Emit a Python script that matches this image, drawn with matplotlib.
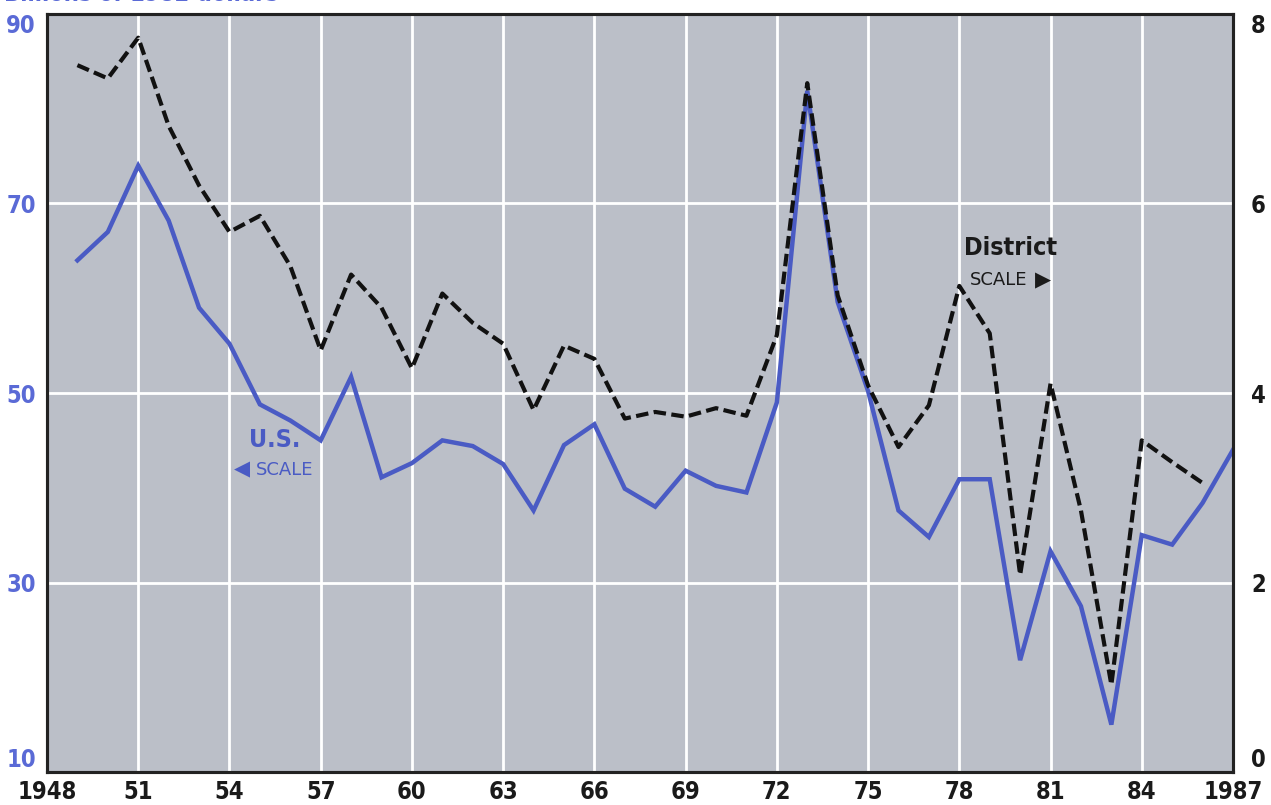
import matplotlib.pyplot as plt
import numpy as np

# U.S. series (left scale), 1949-1987
us_years = list(range(1949, 1988))
us_vals = [64.0, 67.0, 74.0, 68.2, 59.0, 55.2, 48.8, 47.1, 45.0, 51.7,
           41.1, 42.6, 45.0, 44.4, 42.5, 37.6, 44.5, 46.7, 39.9, 38.0,
           41.8, 40.2, 39.5, 49.0, 81.9, 59.6, 50.2, 37.6, 34.8, 40.9,
           40.9, 21.8, 33.3, 27.5, 15.0, 35.0, 34.0, 38.4, 44.0]

# District series (right scale), 1949-1986
dist_years = list(range(1949, 1987))
dist_vals = [7.46, 7.32, 7.75, 6.82, 6.19, 5.70, 5.87, 5.34, 4.45, 5.25,
             4.90, 4.26, 5.05, 4.74, 4.52, 3.82, 4.50, 4.36, 3.73, 3.80,
             3.75, 3.84, 3.76, 4.61, 7.27, 5.03, 4.08, 3.43, 3.87, 5.13,
             4.63, 2.08, 4.10, 2.76, 0.92, 3.50, 3.27, 3.05]

xticks = [1948, 1951, 1954, 1957, 1960, 1963, 1966, 1969, 1972, 1975, 1978, 1981, 1984, 1987]
xlabels = ['1948', '51', '54', '57', '60', '63', '66', '69', '72', '75', '78', '81', '84', '1987']
left_ticks = [10, 30, 50, 70, 90]
right_ticks = [0, 2, 4, 6, 8]

blue = '#4a5bc4'
label_blue = '#5a6ad6'
bg = '#bbbfc8'

fig = plt.figure(figsize=(12.71, 8.05), dpi=100)
ax = fig.add_axes([47 / 1271, 33 / 805, 1186 / 1271, 758 / 805])
ax.set_facecolor(bg)
ax.set_xlim(1948, 1987)
ax.set_ylim(10, 90)

# grid
for x in xticks[1:-1]:
    ax.axvline(x, color='white', lw=2, zorder=1)
for y in left_ticks[1:-1]:
    ax.axhline(y, color='white', lw=2, zorder=1)

ax.plot(us_years, us_vals, color=blue, lw=3.2, zorder=3, solid_joinstyle='miter')

ax2 = ax.twinx()
ax2.set_ylim(0, 8)
ax2.plot(dist_years, dist_vals, color='#111111', lw=3, ls=(0, (3, 1.3)), zorder=4)

fnt = dict(fontweight='bold', fontstretch='condensed', family='DejaVu Sans')

ax.set_xticks(xticks)
ax.set_xticklabels(xlabels, fontsize=17, color='#1a1a1a', **fnt)
ax.set_yticks(left_ticks)
ax.set_yticklabels([str(v) for v in left_ticks], fontsize=17, color=label_blue, **fnt)
ax2.set_yticks(right_ticks)
ax2.set_yticklabels([str(v) for v in right_ticks], fontsize=17, color='#1a1a1a', **fnt)

ax.tick_params(axis='both', length=0, pad=6)
ax.tick_params(axis='y', pad=8)
ax2.tick_params(axis='y', length=0, pad=13)
# align bottom/top labels like the original
ax.get_yticklabels()[0].set_va('bottom')
ax.get_yticklabels()[-1].set_va('top')
ax2.get_yticklabels()[0].set_va('bottom')
ax2.get_yticklabels()[-1].set_va('top')

for a in (ax, ax2):
    for s in a.spines.values():
        s.set_color('#222222')
        s.set_linewidth(2.2)

# in-plot scale labels
ax.text(1955.5, 45.0, 'U.S.', color=blue, fontsize=18, ha='center', va='center', **fnt)
ax.text(1955.8, 41.9, 'SCALE', color=blue, fontsize=13, ha='center', va='center',
        family='DejaVu Sans')
ax.text(1954.4, 41.9, '\u25c0', color=blue, fontsize=15, ha='center', va='center',
        family='DejaVu Sans')
ax.text(1979.67, 65.3, 'District', color='#1a1a1a', fontsize=18, ha='center', va='center', **fnt)
ax.text(1979.3, 61.9, 'SCALE', color='#1a1a1a', fontsize=13, ha='center', va='center',
        family='DejaVu Sans')
ax.text(1980.75, 61.9, '\u25b6', color='#1a1a1a', fontsize=15, ha='center', va='center',
        family='DejaVu Sans')

# header, cut off at the top edge as in the original
fig.text(0.003, 1.007, 'Billions of 1982 dollars', color=label_blue, fontsize=17,
         ha='left', va='center', **fnt)

fig.savefig('out.png', dpi=100)
